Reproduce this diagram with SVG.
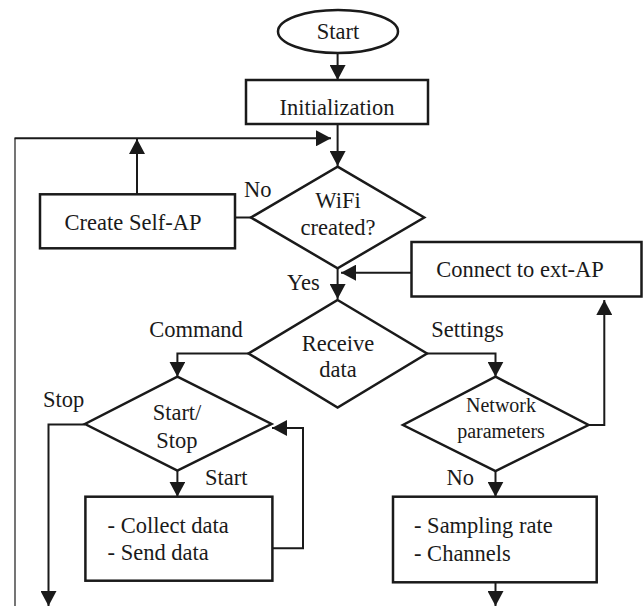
<svg xmlns="http://www.w3.org/2000/svg" width="644" height="606" viewBox="0 0 644 606">
<style>
.shape{fill:#fff;stroke:#1a1a1a;stroke-width:2.5}
.conn{fill:none;stroke:#1a1a1a;stroke-width:2}
.thin{fill:none;stroke:#1a1a1a;stroke-width:1.2}
text{font-family:"Liberation Serif","Times New Roman",serif;font-size:22.5px;fill:#1a1a1a}
.c{text-anchor:middle}
.sm{font-size:20px}
</style>
<defs>
<marker id="ah" markerWidth="15" markerHeight="16" refX="15" refY="8" orient="auto" markerUnits="userSpaceOnUse">
<path d="M0,0 L15,8 L0,16 z" fill="#1a1a1a"/>
</marker>
</defs>
<rect width="644" height="606" fill="#fff"/>
<g id="connectors">
<path class="conn" d="M337.6,53 L337.6,80" marker-end="url(#ah)"/>
<path class="conn" d="M337.6,124 L337.6,166" marker-end="url(#ah)"/>
<path class="thin" d="M15,606 L15,138.3"/>
<path class="conn" d="M14.5,138.3 L331,138.3" marker-end="url(#ah)"/>
<path class="conn" d="M137,194 L137,139" marker-end="url(#ah)"/>
<path class="conn" d="M235,217.5 L251,217.5"/>
<path class="conn" d="M411.5,272.7 L341,272.7" marker-end="url(#ah)"/>
<path class="conn" d="M337.6,268.3 L337.6,299" marker-end="url(#ah)"/>
<path class="conn" d="M248.5,353.5 L177.4,353.5 L177.4,376.7" marker-end="url(#ah)"/>
<path class="conn" d="M427,353.5 L495.5,353.5 L495.5,376.7" marker-end="url(#ah)"/>
<path class="conn" d="M85,424.5 L48.5,424.5 L48.5,606" marker-end="url(#ah)"/>
<path class="conn" d="M177.4,470.7 L177.4,496.7" marker-end="url(#ah)"/>
<path class="conn" d="M272.3,548.3 L303,548.3 L303,428 L272,428" marker-end="url(#ah)"/>
<path class="conn" d="M588.5,425 L604.3,425 L604.3,300" marker-end="url(#ah)"/>
<path class="conn" d="M495.5,471 L495.5,496.7" marker-end="url(#ah)"/>
<path class="conn" d="M495.5,582.3 L495.5,606" marker-end="url(#ah)"/>
</g>
<g id="start">
<ellipse class="shape" cx="338" cy="31.5" rx="60" ry="21.5"/>
<text class="c" x="338" y="39">Start</text>
</g>
<g id="init">
<rect class="shape" x="246" y="80" width="182" height="44"/>
<text class="c" x="337" y="115">Initialization</text>
</g>
<g id="wifi">
<polygon class="shape" points="337.6,166.7 424.2,217.5 337.6,268.3 251,217.5"/>
<text class="c" x="338" y="208">WiFi</text>
<text class="c" x="338" y="235">created?</text>
</g>
<g id="selfap">
<rect class="shape" x="40" y="194.3" width="195" height="54"/>
<text class="c" x="133" y="230">Create Self-AP</text>
</g>
<g id="extap">
<rect class="shape" x="411.5" y="242" width="230" height="54.5"/>
<text class="c" x="520" y="277">Connect to ext-AP</text>
</g>
<g id="receive">
<polygon class="shape" points="337.6,300 427,353.5 337.6,407.5 248.5,353.5"/>
<text class="c" x="338" y="351">Receive</text>
<text class="c" x="338" y="377">data</text>
</g>
<g id="startstop">
<polygon class="shape" points="177.4,376.7 271.5,424 177.4,470.7 85,424"/>
<text class="c" x="177" y="420">Start/</text>
<text class="c" x="177" y="448">Stop</text>
</g>
<g id="collect">
<rect class="shape" x="85.4" y="496.7" width="187" height="84"/>
<text x="107.6" y="533.3">- Collect data</text>
<text x="107.6" y="560">- Send data</text>
</g>
<g id="network">
<polygon class="shape" points="495.5,376.7 588.5,425 495.5,471 403,425"/>
<text class="c sm" x="501" y="411.7">Network</text>
<text class="c sm" x="501" y="438.3">parameters</text>
</g>
<g id="sampling">
<rect class="shape" x="393" y="496.7" width="203.7" height="85.6"/>
<text x="414" y="532.7">- Sampling rate</text>
<text x="414" y="560.7">- Channels</text>
</g>
<g id="labels">
<text x="244" y="197">No</text>
<text x="287" y="290">Yes</text>
<text class="c" x="196" y="336.7">Command</text>
<text class="c" x="467.5" y="336.7">Settings</text>
<text x="43" y="406.7">Stop</text>
<text x="205" y="485">Start</text>
<text x="446.4" y="485">No</text>
</g>
</svg>
